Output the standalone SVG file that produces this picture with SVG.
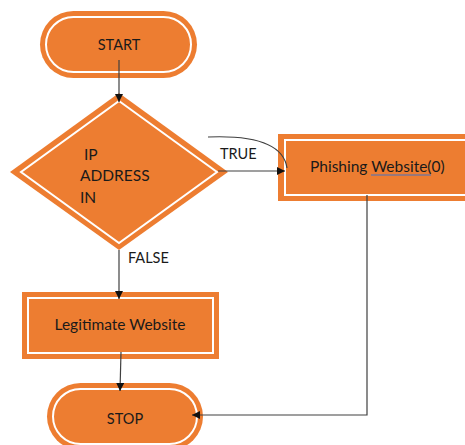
<svg xmlns="http://www.w3.org/2000/svg" width="465" height="445" viewBox="0 0 465 445">
  <style>
    .shape { fill: #ED7D31; stroke: none; }
    .inner { fill: none; stroke: #ffffff; stroke-width: 2; }
    .label { font-family: Lato, "Liberation Sans", Arial, sans-serif; font-size: 15.5px; fill: #1a1a1a; }
    .mid { text-anchor: middle; }
    .wire { fill: none; stroke: #404040; stroke-width: 1.2; }
  </style>
  <defs>
    <marker id="arrow" viewBox="0 0 10 10" refX="10" refY="5" markerWidth="8" markerHeight="8" markerUnits="userSpaceOnUse" orient="auto">
      <path d="M0,0 L10,5 L0,10 z" fill="#111"/>
    </marker>
  </defs>
  <rect width="465" height="445" fill="#ffffff"/>

  <g id="start">
    <rect class="shape" x="40" y="11" width="157" height="67" rx="33.5"/>
    <rect class="inner" x="46" y="17" width="145" height="55" rx="27.5"/>
    <text class="label mid" x="119" y="50" style="font-size:14.5px">START</text>
  </g>

  <g id="decision">
    <polygon class="shape" points="119,93 228,172 119,250 10,172"/>
    <polygon class="inner" points="119,101 217,172 119,243 21,172"/>
    <text class="label" x="84" y="160">IP</text>
    <text class="label" x="80" y="181">ADDRESS</text>
    <text class="label" x="80" y="203">IN</text>
  </g>

  <g id="phishing">
    <rect class="shape" x="278" y="134" width="195" height="67"/>
    <rect class="inner" x="285" y="140" width="190" height="55"/>
    <text class="label" x="310" y="172">Phishing Website(0)</text>
    <line x1="371" y1="175" x2="431" y2="175" stroke="#4472C4" stroke-width="1.2"/>
  </g>

  <g id="legitimate">
    <rect class="shape" x="22" y="292" width="197" height="67"/>
    <rect class="inner" x="28" y="298" width="185" height="55"/>
    <text class="label mid" x="120" y="330">Legitimate Website</text>
  </g>

  <g id="stop">
    <rect class="shape" x="47" y="383" width="156" height="67" rx="33.5"/>
    <rect class="inner" x="53" y="389" width="144" height="55" rx="27.5"/>
    <text class="label mid" x="125" y="424" style="font-size:14.5px">STOP</text>
  </g>

  <g id="connectors">
    <line class="wire" x1="119" y1="60" x2="119" y2="102" marker-end="url(#arrow)"/>
    <line class="wire" x1="218" y1="171" x2="285" y2="171" marker-end="url(#arrow)"/>
    <path class="wire" d="M208,137 Q282,134 287,168"/>
    <text class="label" x="220" y="159" style="font-size:14.5px">TRUE</text>
    <line class="wire" x1="119" y1="250" x2="119" y2="299" marker-end="url(#arrow)"/>
    <text class="label" x="128" y="263" style="font-size:14.5px">FALSE</text>
    <line class="wire" x1="121" y1="352" x2="120" y2="391" marker-end="url(#arrow)"/>
    <polyline class="wire" points="367,195 367,415 192,415" marker-end="url(#arrow)"/>
  </g>
</svg>
